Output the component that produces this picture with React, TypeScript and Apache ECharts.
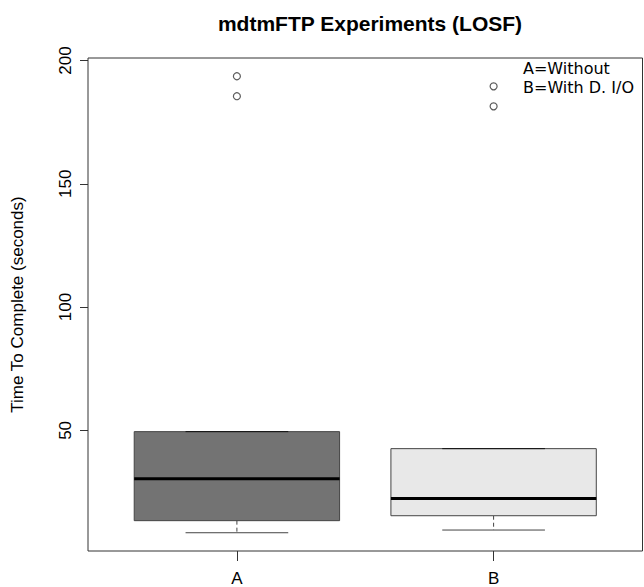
import React, { useEffect, useRef } from "react";
import * as echarts from "echarts";

const categories = ["A", "B"];
// [low whisker, Q1, median, Q3, high whisker]
const boxStats = [
  [8.5, 13.4, 30.4, 49.5, 49.5],
  [9.6, 15.4, 22.4, 42.6, 42.6],
];
const outliers = [
  [1, 193.6],
  [1, 185.5],
  [2, 189.5],
  [2, 181.4],
];
const boxFills = ["#737373", "#e8e8e8"];
const yTicks = [50, 100, 150, 200];
const legendLines = ["A=Without", "B=With D. I/O"];

export default function App() {
  const ref = useRef<HTMLDivElement>(null);
  useEffect(() => {
    if (!ref.current) return;
    const chart = echarts.init(ref.current, null, { renderer: "svg" });
    const boxData = boxStats.map((s, i) => [i + 1, ...s]);
    chart.setOption({
      animation: false,
      title: {
        text: "mdtmFTP Experiments (LOSF)",
        left: 365,
        top: 8,
        textAlign: "center",
        textStyle: { fontFamily: "Liberation Sans", fontWeight: "bold", fontSize: 21, color: "#000" },
      },
      grid: {
        left: 88,
        right: 1.5,
        top: 58,
        bottom: 36,
        show: true,
        borderColor: "#333",
        borderWidth: 1,
        backgroundColor: "transparent",
      },
      xAxis: {
        type: "value",
        min: 0.42,
        max: 2.58,
        splitLine: { show: false },
        axisLine: { show: false },
        axisTick: { show: true, length: 10, customValues: [1, 2], lineStyle: { color: "#333" } },
        axisLabel: {
          customValues: [1, 2],
          formatter: (v: number) => categories[Math.round(v) - 1] ?? "",
          margin: 19,
          fontFamily: "Liberation Sans",
          fontSize: 17,
          color: "#000",
        },
      },
      yAxis: {
        type: "value",
        min: 1.1,
        max: 201,
        name: "Time To Complete (seconds)",
        nameLocation: "middle",
        nameGap: 62,
        nameTextStyle: { fontFamily: "Liberation Sans", fontSize: 17, color: "#000" },
        splitLine: { show: false },
        axisLine: { show: false },
        axisTick: { show: true, length: 8, customValues: yTicks, lineStyle: { color: "#333" } },
        axisLabel: {
          customValues: yTicks,
          rotate: 90,
          margin: 14,
          fontFamily: "Liberation Sans",
          fontSize: 17,
          color: "#000",
        },
      },
      series: [
        {
          type: "custom",
          data: boxData,
          encode: { x: 0, y: [1, 2, 3, 4, 5] },
          renderItem: (params: any, api: any) => {
            const x = api.value(0);
            const low = api.value(1);
            const q1 = api.value(2);
            const med = api.value(3);
            const q3 = api.value(4);
            const high = api.value(5);
            const boxW = api.size([0.8, 0])[0];
            const capW = api.size([0.4, 0])[0];
            const pLow = api.coord([x, low]);
            const pQ1 = api.coord([x, q1]);
            const pMed = api.coord([x, med]);
            const pQ3 = api.coord([x, q3]);
            const pHigh = api.coord([x, high]);
            const cx = pLow[0];
            const idx = params.dataIndex;
            return {
              type: "group",
              children: [
                {
                  type: "line",
                  shape: { x1: cx, y1: pQ1[1], x2: cx, y2: pLow[1] },
                  style: { stroke: "#444", lineWidth: 1, lineDash: [4, 3] },
                },
                {
                  type: "line",
                  shape: { x1: cx, y1: pQ3[1], x2: cx, y2: pHigh[1] },
                  style: { stroke: "#444", lineWidth: 1, lineDash: [4, 3] },
                },
                {
                  type: "line",
                  shape: { x1: cx - capW / 2, y1: pLow[1], x2: cx + capW / 2, y2: pLow[1] },
                  style: { stroke: "#444", lineWidth: 1 },
                },
                {
                  type: "rect",
                  shape: { x: cx - boxW / 2, y: pQ3[1], width: boxW, height: pQ1[1] - pQ3[1] },
                  style: { fill: boxFills[idx], stroke: "#444", lineWidth: 1 },
                },
                {
                  type: "line",
                  shape: { x1: cx - capW / 2, y1: pHigh[1], x2: cx + capW / 2, y2: pHigh[1] },
                  style: { stroke: "#111", lineWidth: 1 },
                },
                {
                  type: "line",
                  shape: { x1: cx - boxW / 2, y1: pMed[1], x2: cx + boxW / 2, y2: pMed[1] },
                  style: { stroke: "#000", lineWidth: 3 },
                },
              ],
            };
          },
        },
        {
          type: "scatter",
          data: outliers,
          symbol: "circle",
          symbolSize: 7,
          itemStyle: { color: "#fff", borderColor: "#333", borderWidth: 1.2 },
        },
      ],
      graphic: legendLines.map((t, i) => ({
        type: "text",
        left: 523,
        top: 60 + i * 19,
        style: { text: t, fontFamily: "DejaVu Sans", fontSize: 16, fill: "#000" },
      })),
    });
    return () => chart.dispose();
  }, []);
  return <div ref={ref} style={{ width: 644, height: 587, position: "absolute", left: 0, top: 0 }} />;
}
